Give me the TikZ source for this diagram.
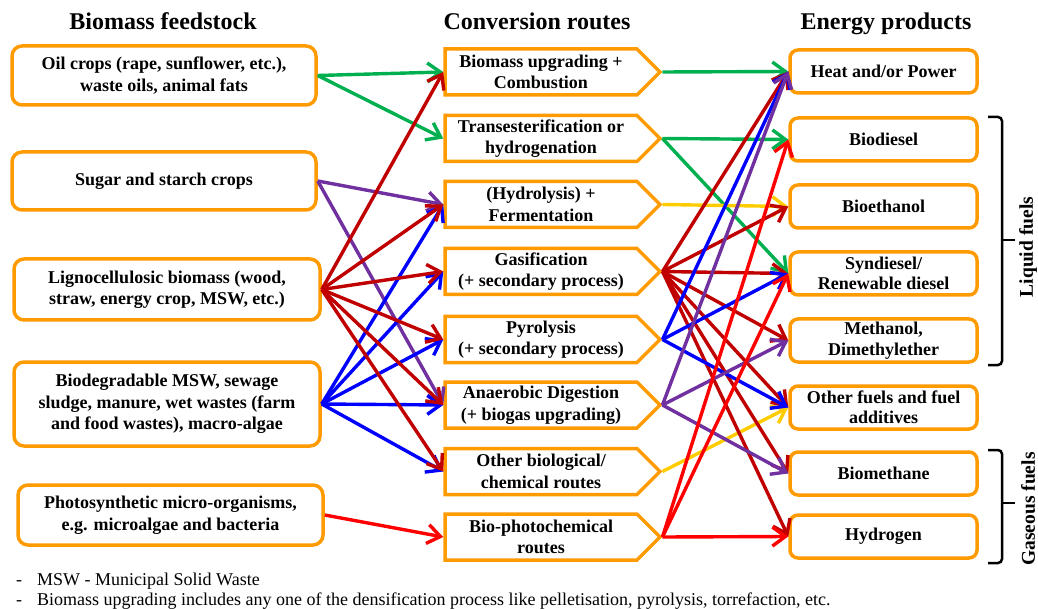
\documentclass[tikz,border=0pt]{standalone}
\usepackage{fontspec}
\setmainfont{Liberation Serif}
\usetikzlibrary{shapes.symbols,arrows.meta}
\definecolor{boxor}{RGB}{255,155,0}
\definecolor{cgreen}{RGB}{0,176,80}
\definecolor{cdred}{RGB}{192,0,0}
\definecolor{cblue}{RGB}{0,0,255}
\definecolor{cpurple}{RGB}{112,48,160}
\definecolor{cred}{RGB}{255,0,0}
\definecolor{cyellow}{RGB}{255,204,0}
\begin{document}
\begin{tikzpicture}[x=1pt,y=-1pt,
  boxfont/.style={font=\bfseries\fontsize{18}{21.5}\selectfont},
  srcbox/.style={draw=boxor, line width=3.5pt, rounded corners=10pt, fill=white, align=center, boxfont, minimum width=304pt, inner sep=0pt},
  routebox/.style={draw=boxor, line width=3.5pt, signal, signal to=east, signal pointer angle=90, fill=white, align=center, boxfont, minimum width=215pt, minimum height=46pt, inner sep=0pt},
  prodbox/.style={draw=boxor, line width=3.5pt, rounded corners=8pt, fill=white, align=center, font=\bfseries\fontsize{18}{20.5}\selectfont, minimum width=187pt, minimum height=43pt, inner sep=0pt},
  flow/.style={line width=3.4pt, -{Straight Barb[length=13pt,width=19pt]}},
  heading/.style={font=\bfseries\fontsize{24}{28}\selectfont, anchor=base, inner sep=0pt},
  sidelabel/.style={font=\bfseries\fontsize{19.5}{23}\selectfont, rotate=90, inner sep=0pt},
  bracket/.style={draw=black, line width=2.5pt, rounded corners=4pt},
  note/.style={font=\fontsize{18}{21.5}\selectfont, anchor=base west, inner sep=0pt}
]
\useasboundingbox (0,0) rectangle (1038,609);

% headings
\node[heading] (h1) at (163,30) {Biomass feedstock};
\node[heading] (h2) at (537,30) {Conversion routes};
\node[heading] (h3) at (886,30) {Energy products};

% feedstock
\node[srcbox, minimum height=59pt] (L1) at (164,75.5) {Oil crops (rape, sunflower, etc.),\\waste oils, animal fats};
\node[srcbox, minimum height=58pt] (L2) at (164,181) {Sugar and starch crops};
\node[srcbox, minimum height=61pt, minimum width=306pt] (L3) at (167,289.5) {Lignocellulosic biomass (wood,\\straw, energy crop, MSW, etc.)};
\node[srcbox, minimum height=84pt, minimum width=306pt] (L4) at (167,404) {Biodegradable MSW, sewage\\sludge, manure, wet wastes (farm\\and food wastes), macro-algae};
\node[srcbox, minimum height=60pt, minimum width=305pt] (L5) at (170.5,515) {Photosynthetic micro-organisms,\\e.g. microalgae and bacteria};

% conversion routes
\node[routebox] (M1) at (541,72) {Biomass upgrading +\\Combustion};
\node[routebox] (M2) at (541,138.5) {Transesterification or\\hydrogenation};
\node[routebox] (M3) at (541,204.5) {(Hydrolysis) +\\Fermentation};
\node[routebox] (M4) at (541,271.5) {Gasification\\(+ secondary process)};
\node[routebox] (M5) at (541,339.5) {Pyrolysis\\(+ secondary process)};
\node[routebox] (M6) at (541,405) {Anaerobic Digestion\\(+ biogas upgrading)};
\node[routebox] (M7) at (541,471.5) {Other biological/\\chemical routes};
\node[routebox] (M8) at (541,537) {Bio-photochemical\\routes};

% products
\node[prodbox] (R1) at (883.5,71.5) {Heat and/or Power};
\node[prodbox] (R2) at (883.5,139.5) {Biodiesel};
\node[prodbox] (R3) at (883.5,206.5) {Bioethanol};
\node[prodbox] (R4) at (883.5,273.5) {Syndiesel/\\Renewable diesel};
\node[prodbox] (R5) at (883.5,340.5) {Methanol,\\Dimethylether};
\node[prodbox] (R6) at (883.5,407.5) {Other fuels and fuel\\additives};
\node[prodbox] (R7) at (883.5,473.5) {Biomethane};
\node[prodbox] (R8) at (883.5,536.5) {Hydrogen};

% feedstock -> routes
\draw[flow, cgreen] (L1.east) -- (M1.west);
\draw[flow, cgreen] (L1.east) -- (M2.west);
\draw[flow, cpurple] (L2.east) -- (M3.west);
\draw[flow, cpurple] (L2.east) -- (M6.west);
\foreach \m in {M3,M4,M5,M6,M7} \draw[flow, cblue] (L4.east) -- (\m.west);
\foreach \m in {M1,M3,M4,M5,M6,M7} \draw[flow, cdred] (L3.east) -- (\m.west);
\draw[flow, cred] (L5.east) -- (M8.west);

% routes -> products
\draw[flow, cgreen] (M1.east) -- (R1.west);
\draw[flow, cgreen] (M2.east) -- (R2.west);
\draw[flow, cgreen] (M2.east) -- (R4.west);
\draw[flow, cyellow] (M3.east) -- (R3.west);
\draw[flow, cyellow] (M7.east) -- (R6.west);
\foreach \r in {R1,R3,R4,R5,R6,R7,R8} \draw[flow, cdred] (M4.east) -- (\r.west);
\foreach \r in {R1,R4,R6} \draw[flow, cblue] (M5.east) -- (\r.west);
\foreach \r in {R1,R5,R7} \draw[flow, cpurple] (M6.east) -- (\r.west);
\foreach \r in {R2,R4,R8} \draw[flow, cred] (M8.east) -- (\r.west);

% brackets
\coordinate (b1t) at (988,117);
\coordinate (b1b) at (988,365);
\coordinate (b1m) at (1015,240);
\draw[bracket] (b1t) -- (1002,117) -- (1002,240) -- (1002,365) -- (b1b);
\draw[bracket] (1002,240) -- (b1m);
\coordinate (b2t) at (988,450);
\coordinate (b2b) at (988,563);
\coordinate (b2m) at (1015,503);
\draw[bracket] (b2t) -- (1002,450) -- (1002,503) -- (1002,563) -- (b2b);
\draw[bracket] (1002,503) -- (b2m);
\node[sidelabel] (liq) at (1028,247) {Liquid fuels};
\node[sidelabel] (gas) at (1028,509) {Gaseous fuels};

% notes
\node[note] (n1) at (16,585) {\makebox[21pt][l]{-}MSW - Municipal Solid Waste};
\node[note] (n2) at (16,605) {\makebox[21pt][l]{-}Biomass upgrading includes any one of the densification process like pelletisation, pyrolysis, torrefaction, etc.};
\end{tikzpicture}
\end{document}
